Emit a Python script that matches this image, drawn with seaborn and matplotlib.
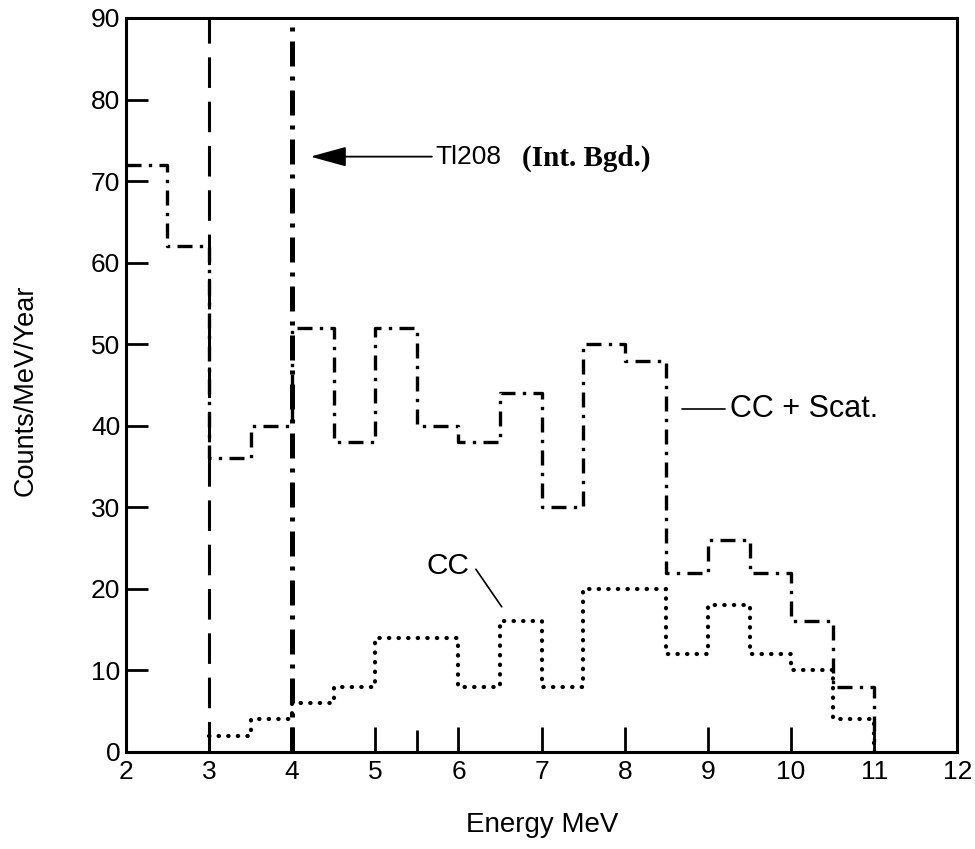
import numpy as np
import pandas as pd
import matplotlib
matplotlib.use("Agg")
import matplotlib.pyplot as plt
import seaborn as sns

# ---- data ----
bin_edges = [2.0, 2.5, 3.0, 3.5, 4.0, 4.5, 5.0, 5.5, 6.0, 6.5, 7.0, 7.5, 8.0, 8.5, 9.0, 9.5, 10.0, 10.5, 11.0]
cc_scat = [72, 62, 36, 40, 52, 38, 52, 40, 38, 44, 30, 50, 48, 22, 26, 22, 16, 8]

cc_edges = [3.0, 3.5, 4.0, 4.5, 5.0, 5.5, 6.0, 6.5, 7.0, 7.5, 8.0, 8.5, 9.0, 9.5, 10.0, 10.5, 11.0]
cc = [2, 4, 6, 8, 14, 14, 8, 16, 8, 20, 20, 12, 18, 12, 10, 4]

tl208_x = 4.0
threshold_x = 3.0
x_ticks = [2, 3, 4, 5, 6, 7, 8, 9, 10, 11, 12]
y_ticks = [0, 10, 20, 30, 40, 50, 60, 70, 80, 90]


def step_frame(edges, vals):
    xs = list(edges) + [edges[-1]]
    ys = list(vals) + [vals[-1], 0]
    return pd.DataFrame({"x": xs, "y": ys})


sns.set_theme(style="white")
plt.rcParams["font.family"] = ["Liberation Sans", "DejaVu Sans"]

fig = plt.figure(figsize=(9.75, 8.49), dpi=100)
ax = fig.add_axes([0.129, 0.1143, 0.853, 0.8645])

df_scat = step_frame(bin_edges, cc_scat)
df_cc = step_frame(cc_edges, cc)

sns.lineplot(data=df_scat, x="x", y="y", ax=ax, estimator=None, sort=False,
             drawstyle="steps-post", color="black", linewidth=2.4,
             linestyle=(0, (4.5, 2.2, 1, 2.2)))
sns.lineplot(data=df_cc, x="x", y="y", ax=ax, estimator=None, sort=False,
             drawstyle="steps-post", color="black", linewidth=3.0,
             linestyle=(0, (0.1, 2.2)), dash_capstyle="round")

# vertical lines
ax.axvline(threshold_x, color="black", linewidth=2.2, linestyle=(0, (10, 4.5)))
ax.axvline(tl208_x, color="black", linewidth=3.6, linestyle=(0, (5, 2, 0.8, 2)))

ax.set_xlim(2, 12)
ax.set_ylim(0, 90)
ax.set_xticks(x_ticks)
ax.set_yticks(y_ticks)
ax.set_xticklabels([str(t) for t in x_ticks])
ax.set_yticklabels([str(t) for t in y_ticks])
ax.set_xticks([5.5], minor=True)

ax.tick_params(axis="both", direction="in", color="black", labelsize=19,
               labelcolor="black", width=2.0)
ax.tick_params(axis="y", length=16, pad=4, left=True)
ax.tick_params(axis="x", length=18, pad=6, bottom=True)
ax.tick_params(axis="x", which="minor", direction="in", length=16, width=2.0,
               bottom=True, color="black")

for s in ax.spines.values():
    s.set_color("black")
    s.set_linewidth(2.2)

ax.set_xlabel("Energy MeV", fontsize=20, color="black")
ax.set_ylabel("Counts/MeV/Year", fontsize=19.5, color="black")
ax.xaxis.set_label_coords(0.5006, -0.082)
ax.yaxis.set_label_coords(-0.105, 0.493)

# annotations
ax.annotate("", xy=(4.22, 73), xytext=(5.68, 73),
            arrowprops=dict(arrowstyle="-|>,head_length=0.8,head_width=0.22",
                            color="black", lw=1.3,
                            mutation_scale=28, shrinkA=0, shrinkB=0))
ax.text(5.72, 73, "Tl208", fontsize=19, va="center", ha="left", color="black")
ax.text(6.77, 72.8, "(Int. Bgd.)", fontsize=21, va="center", ha="left",
        color="black", family=["Liberation Serif", "DejaVu Serif"], fontweight="bold")

ax.plot([8.69, 9.21], [42, 42], color="black", linewidth=1.2)
ax.text(9.26, 42, "CC + Scat.", fontsize=22, va="center", ha="left", color="black")

ax.plot([6.21, 6.52], [22.4, 17.8], color="black", linewidth=1.2)
ax.text(5.87, 22.8, "CC", fontsize=21.5, va="center", ha="center", color="black")

fig.savefig("out.png", dpi=100)
